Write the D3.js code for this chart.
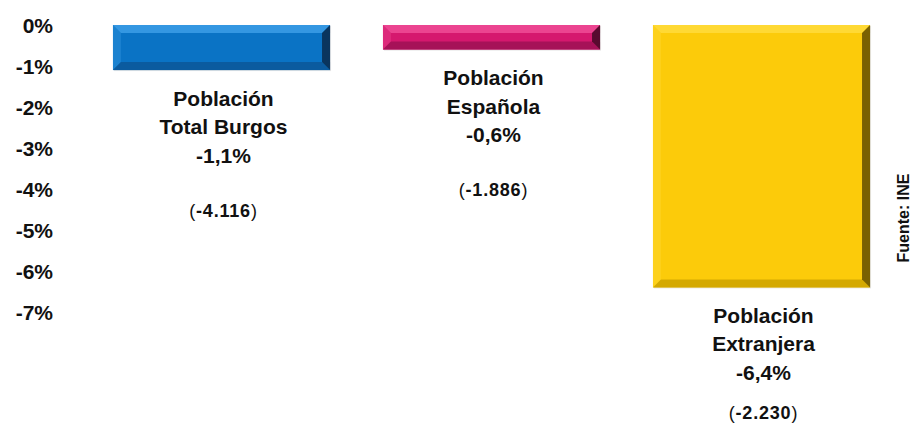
<!DOCTYPE html>
<html>
<head>
<meta charset="utf-8">
<script src="https://cdn.jsdelivr.net/npm/d3@7"></script>
<style>
  body { margin: 0; background: #fff; }
  text { font-family: "Liberation Sans", Arial, sans-serif; fill: #111; }
</style>
</head>
<body>
<div id="chart"></div>
<script>
  // data
  var groups = ["Total Burgos", "Española", "Extranjera"]
  var labelLines = [["Población", "Total Burgos"], ["Población", "Española"], ["Población", "Extranjera"]]
  var pctValues = [-1.1, -0.6, -6.4]
  var absValues = ["-4.116", "-1.886", "-2.230"]
  var yTicks = [0, -1, -2, -3, -4, -5, -6, -7]

  // colours: main, light edge, dark edge, darkest edge
  var palette = [
    {main: "#0a73c5", light: "#3c9de6", dark: "#0b5595", deep: "#0a2f52"},
    {main: "#d5186e", light: "#ee4c96", dark: "#9a1252", deep: "#4a0a28"},
    {main: "#fccb0a", light: "#ffdc3c", dark: "#c9a000", deep: "#6b5500"}
  ]

  var width = 912, height = 426

  var svg = d3.select("#chart").append("svg")
      .attr("width", width)
      .attr("height", height)

  var xScale = d3.scaleBand()
      .domain(groups)
      .range([86.5, 896.5])
      .paddingInner(0.196)
      .paddingOuter(0.098)

  var yScale = d3.scaleLinear()
      .domain([0, -7])
      .range([25, 312])

  var fmtPct = function(v) { return d3.format(".1f")(v).replace("−", "-").replace(".", ",") + "%" }

  // y axis, labels only
  var yAxis = d3.axisLeft(yScale)
      .tickValues(yTicks)
      .tickSize(0)
      .tickPadding(0)
      .tickFormat(function(d) { return d + "%" })

  var gy = svg.append("g")
      .attr("transform", "translate(53,0)")
      .call(yAxis)
  gy.select(".domain").remove()
  gy.selectAll("text")
      .attr("font-family", "Liberation Sans, Arial, sans-serif")
      .attr("font-size", 21)
      .attr("font-weight", "bold")
      .attr("fill", "#111")
      .attr("dy", "0.36em")

  var bars = groups.map(function(g, i) {
    return {name: g, value: pctValues[i], abs: absValues[i], lines: labelLines[i], col: palette[i]}
  })

  // bevelled bars
  var bar = svg.selectAll(".bar")
      .data(bars)
    .enter().append("g")
      .attr("class", "bar")

  bar.each(function(d) {
    var g = d3.select(this)
    var x0 = xScale(d.name), x1 = x0 + xScale.bandwidth()
    var y0 = yScale(0), y1 = yScale(d.value)
    var b = Math.min(8, (y1 - y0) / 3)

    g.append("rect")
        .attr("x", x0 + 1).attr("y", y0 + 1)
        .attr("width", x1 - x0).attr("height", y1 - y0)
        .attr("fill", "#000").attr("opacity", 0.1)

    g.append("rect")
        .attr("x", x0).attr("y", y0)
        .attr("width", x1 - x0).attr("height", y1 - y0)
        .attr("fill", d.col.main)

    var edges = [
      {pts: [[x0, y0], [x1, y0], [x1 - b, y0 + b], [x0 + b, y0 + b]], fill: d.col.light, op: 0.85},
      {pts: [[x0, y0], [x0 + b, y0 + b], [x0 + b, y1 - b], [x0, y1]], fill: d.col.light, op: 0.35},
      {pts: [[x0, y1], [x0 + b, y1 - b], [x1 - b, y1 - b], [x1, y1]], fill: d.col.dark, op: 0.8},
      {pts: [[x1, y0], [x1, y1], [x1 - b, y1 - b], [x1 - b, y0 + b]], fill: d.col.deep, op: 0.9}
    ]
    edges.forEach(function(e) {
      g.append("polygon")
          .attr("points", e.pts.map(function(p) { return p.join(",") }).join(" "))
          .attr("fill", e.fill)
          .attr("opacity", e.op)
    })

    // labels under the bar
    var cx = x0 + xScale.bandwidth() / 2 + 2
    var ly = y1 + 28
    var lines = d.lines.concat([fmtPct(d.value)])
    lines.forEach(function(t, k) {
      g.append("text")
          .attr("x", cx).attr("y", ly + k * 28.5)
          .attr("dy", "0.36em")
          .attr("text-anchor", "middle")
          .attr("font-size", 21)
          .attr("font-weight", "bold")
          .text(t)
    })
    var py = Math.min(ly + 2 * 28.5 + 55, height - 13)
    var pt = g.append("text")
        .attr("x", cx).attr("y", py)
        .attr("dy", "0.36em")
        .attr("text-anchor", "middle")
        .attr("font-size", 18)
        .attr("letter-spacing", 0.8)
    pt.append("tspan").text("(")
    pt.append("tspan").attr("font-weight", "bold").text(d.abs)
    pt.append("tspan").text(")")
  })

  // source note
  svg.append("text")
      .attr("transform", "translate(903,218) rotate(-90)")
      .attr("dy", "0.36em")
      .attr("text-anchor", "middle")
      .attr("font-size", 16)
      .attr("font-weight", "bold")
      .text("Fuente: INE")
</script>
</body>
</html>
